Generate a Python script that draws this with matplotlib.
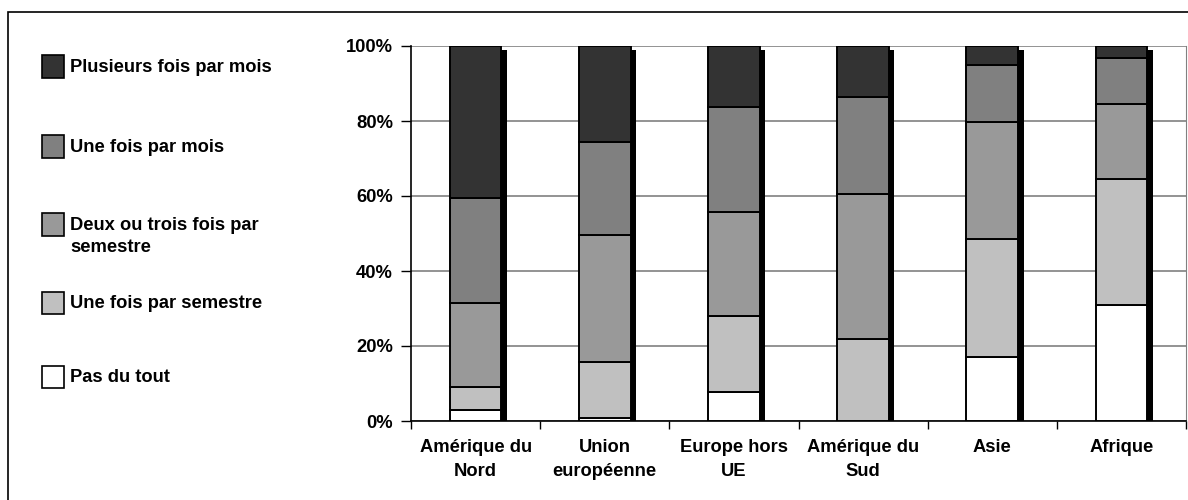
import numpy as np
import matplotlib.pyplot as plt
from matplotlib.patches import Rectangle

regions = ['Amérique du\nNord', 'Union\neuropéenne', 'Europe hors\nUE',
           'Amérique du\nSud', 'Asie', 'Afrique']

# parts in %, bottom to top
pas_du_tout = [3.0, 0.7, 7.8, 0.0, 17.0, 30.9]
une_semestre = [6.0, 15.1, 20.2, 21.8, 31.5, 33.6]
deux_trois = [22.5, 33.9, 27.8, 38.7, 31.3, 20.0]
une_mois = [27.9, 24.8, 27.9, 26.0, 15.2, 12.2]
plusieurs_mois = [40.6, 25.5, 16.3, 13.5, 5.0, 3.3]

series = [pas_du_tout, une_semestre, deux_trois, une_mois, plusieurs_mois]
labels = ['Pas du tout', 'Une fois par semestre', 'Deux ou trois fois par\nsemestre',
          'Une fois par mois', 'Plusieurs fois par mois']
colors = ['#ffffff', '#c0c0c0', '#999999', '#808080', '#333333']

plt.rcParams['font.family'] = ['Liberation Sans', 'DejaVu Sans']
plt.rcParams['font.weight'] = 'bold'
fs = 13.2

fig = plt.figure(figsize=(11.88, 5), dpi=100)
ax = fig.add_axes([411/1188, 1 - 421/500, 775/1188, 375/500])

x = np.arange(len(regions))
w = 0.4

# shadow behind bars
totals = np.sum(series, axis=0)
ax.bar(x + 0.043, totals - 1.1, w, color='black', zorder=2, linewidth=0)

bottom = np.zeros(len(regions))
for s, c in zip(series, colors):
    ax.bar(x, s, w, bottom=bottom, color=c, edgecolor='black', linewidth=1.4, zorder=3)
    bottom += np.array(s)

ax.set_xlim(-0.5, len(regions) - 0.5)
ax.set_ylim(0, 100)
ax.set_yticks([0, 20, 40, 60, 80, 100])
ax.set_yticklabels(['0%', '20%', '40%', '60%', '80%', '100%'], fontsize=fs, fontweight='bold')
ax.set_xticks(x)
ax.set_xticklabels(regions, fontsize=fs, fontweight='bold', linespacing=1.5)
ax.tick_params(axis='x', length=0, pad=13)
ax.tick_params(axis='y', length=7, width=1, pad=6)
ax.set_xticks(np.arange(len(regions) + 1) - 0.5, minor=True)
ax.tick_params(axis='x', which='minor', length=6, width=1, direction='out')

ax.yaxis.grid(True, color='#808080', linewidth=1.2, zorder=0)
ax.set_axisbelow(True)
ax.spines['top'].set_visible(False)
ax.spines['right'].set_color('#808080')
ax.spines['left'].set_linewidth(1.2)
ax.spines['bottom'].set_linewidth(1.2)

# outer frame
fig.patches.append(Rectangle((8/1188, -0.1), 1.1, 1 - 12/500 + 0.1,
                             transform=fig.transFigure, fill=False,
                             edgecolor='black', linewidth=1.2))

# legend, top to bottom
leg_y = [66.5, 146.5, 224.5, 303, 377]
for lab, c, yy in zip(labels[::-1], colors[::-1], leg_y):
    fig.patches.append(Rectangle((42/1188, 1 - (yy + 11)/500), 22/1188, 22/500,
                                 transform=fig.transFigure, facecolor=c,
                                 edgecolor='black', linewidth=1.2))
    for k, line in enumerate(lab.split('\n')):
        fig.text(70/1188, 1 - (yy + 1 + 21.7 * k)/500, line, fontsize=fs,
                 fontweight='bold', va='center', ha='left')

fig.savefig('out.png', dpi=100)
